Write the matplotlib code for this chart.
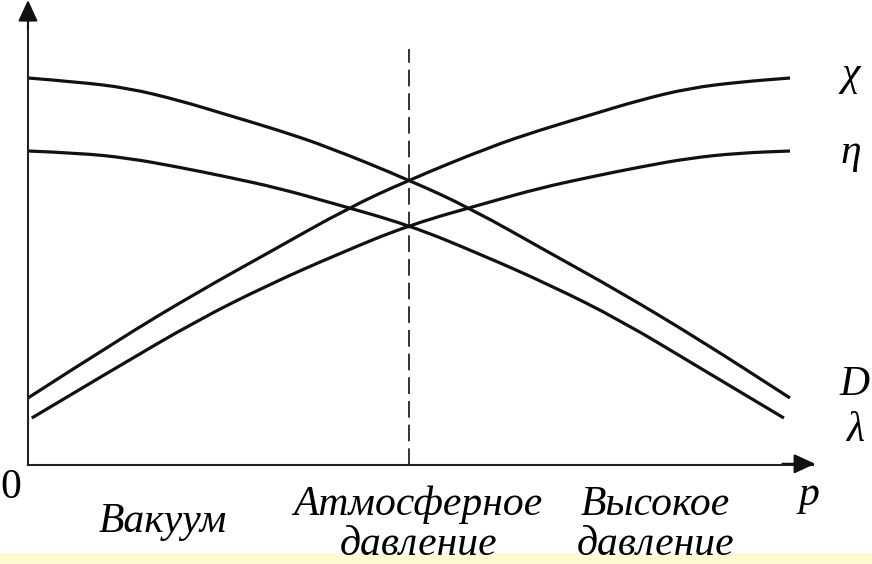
import matplotlib
matplotlib.use("Agg")
import matplotlib.pyplot as plt
from matplotlib.path import Path
from matplotlib.patches import PathPatch

# curve data (x: pressure axis 0..10, dashed line at 5; y: arbitrary units)
x_D = [0, 0.66, 1.31, 1.97, 2.62, 3.28, 3.94, 5.0, 5.8, 6.85, 7.77, 8.82, 10.0]
y_D = [9.675, 9.575, 9.425, 9.125, 8.75, 8.375, 7.95, 7.125, 6.425, 5.3, 4.325, 3.125, 1.675]

x_lam = [0, 0.66, 1.31, 1.97, 2.62, 3.28, 3.94, 5.0, 5.93, 6.85, 7.77, 8.82, 9.92]
y_lam = [7.85, 7.8, 7.675, 7.45, 7.2, 6.925, 6.575, 6.0, 5.275, 4.5, 3.625, 2.425, 1.175]

x_chi = [0, 1.18, 2.23, 3.15, 4.2, 5.0, 6.06, 6.72, 7.38, 8.03, 8.69, 9.34, 10.0]
y_chi = [1.675, 3.125, 4.325, 5.3, 6.425, 7.125, 7.95, 8.375, 8.75, 9.125, 9.425, 9.575, 9.675]

x_eta = [0.05, 1.15, 2.23, 3.15, 4.07, 5.0, 6.06, 6.72, 7.38, 8.03, 8.69, 9.34, 10.0]
y_eta = [1.175, 2.425, 3.625, 4.5, 5.275, 6.0, 6.575, 6.925, 7.2, 7.45, 7.675, 7.8, 7.85]

curve_labels = ["\u03c7", "\u03b7", "D", "\u03bb"]
region_labels = ["Вакуум", "Атмосферное\nдавление", "Высокое\nдавление"]

plt.rcParams['font.family'] = ['Liberation Serif', 'DejaVu Serif']


def smooth_path(xs, ys):
    # quadratic bezier through midpoints, data points act as control points
    pts = list(zip(xs, ys))
    verts = [pts[0]]
    codes = [Path.MOVETO]
    for i in range(1, len(pts) - 1):
        mid = ((pts[i][0] + pts[i + 1][0]) / 2, (pts[i][1] + pts[i + 1][1]) / 2)
        verts += [pts[i], mid]
        codes += [Path.CURVE3, Path.CURVE3]
    verts.append(pts[-1])
    codes.append(Path.LINETO)
    return Path(verts, codes)


fig = plt.figure(figsize=(8.72, 5.64), dpi=100)
ax = fig.add_axes([0, 0, 1, 1])
ax.set_xlim(-0.367, 11.076)
ax.set_ylim(-2.475, 11.625)
ax.axis('off')

# pale yellow strip at the bottom edge
ax.axhspan(-2.475, -2.2, color='#fdfcd0', lw=0)

for xs, ys in [(x_D, y_D), (x_lam, y_lam), (x_chi, y_chi), (x_eta, y_eta)]:
    ax.add_patch(PathPatch(smooth_path(xs, ys), facecolor='none',
                           edgecolor='#111111', lw=2.3, capstyle='butt'))

# axes with arrows
ax.plot([0, 0], [0, 10.9], color='#222222', lw=1.5)
ax.plot([0, 10.3], [0, 0], color='#222222', lw=1.5)
ax.annotate('', xy=(0, 11.625), xytext=(0, 10.9),
            arrowprops=dict(arrowstyle='-|>,head_length=1.3,head_width=0.6',
                            color='#111111', lw=1.5, shrinkA=0, shrinkB=0))
ax.annotate('', xy=(10.33, 0.03), xytext=(9.9, 0.03),
            arrowprops=dict(arrowstyle='-|>,head_length=1.3,head_width=0.6',
                            color='#111111', lw=1.5, shrinkA=0, shrinkB=0))

# dashed line at atmospheric pressure
ax.plot([5.0, 5.0], [0, 10.4], color='#111111', lw=1.2,
        linestyle=(0, (10, 4.2)))

fs = 30
ax.text(-0.22, -0.58, "0", fontsize=fs, ha='center', va='center')
ax.text(10.25, -0.75, "p", fontsize=fs, style='italic', ha='center', va='center')

ax.text(10.8, 9.75, curve_labels[0], fontsize=fs, style='italic', ha='center', va='center')
ax.text(10.8, 7.8, curve_labels[1], fontsize=fs, style='italic', ha='center', va='center')
ax.text(10.85, 2.0, curve_labels[2], fontsize=fs, style='italic', ha='center', va='center')
ax.text(10.85, 0.85, curve_labels[3], fontsize=fs, style='italic', ha='center', va='center')

ax.text(1.77, -1.42, region_labels[0], fontsize=fs, style='italic', ha='center', va='center')
ax.text(5.12, -1.5, region_labels[1], fontsize=fs, style='italic', ha='center', va='center',
        linespacing=1.05)
ax.text(8.23, -1.5, region_labels[2], fontsize=fs, style='italic', ha='center', va='center',
        linespacing=1.05)

fig.savefig("out.png", dpi=100)
